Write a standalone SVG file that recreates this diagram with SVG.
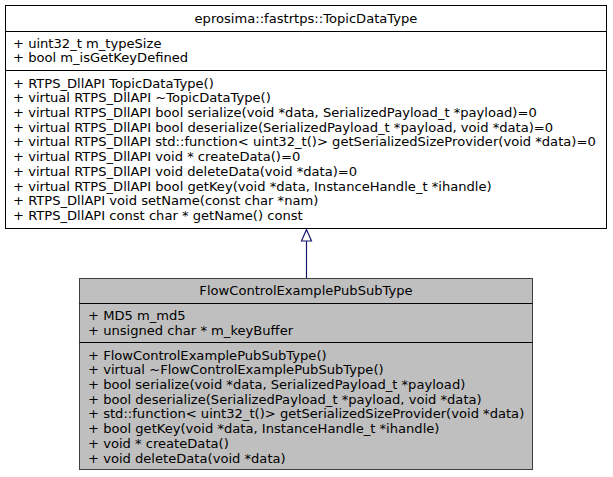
<svg xmlns="http://www.w3.org/2000/svg" width="613" height="477" viewBox="0 0 613 477">
<defs>
<style>
text{font-family:"DejaVu Sans","Liberation Sans",sans-serif;font-size:13.1px;fill:#000}
.t{text-anchor:middle}
.box{stroke:#000;stroke-width:1}
.sep{stroke:#000;stroke-width:1}
.cur{fill:#bfbfbf;stroke:#404040}
.edge{stroke:#191970;stroke-width:1.2;fill:none}
</style>
</defs>
<rect width="613" height="477" fill="#fff"/>
<g id="node-base">
<rect class="box" x="5.5" y="5.5" width="601" height="223" fill="#fff"/>
<line class="sep" x1="5.5" y1="31.5" x2="606.5" y2="31.5"/>
<line class="sep" x1="5.5" y1="70.5" x2="606.5" y2="70.5"/>
<text class="t" x="306" y="22.5">eprosima::fastrtps::TopicDataType</text>
<text x="13" y="47.6">+ uint32_t m_typeSize</text>
<text x="13" y="62.3">+ bool m_isGetKeyDefined</text>
<text x="13" y="87.6">+ RTPS_DllAPI TopicDataType()</text>
<text x="13" y="102.3">+ virtual RTPS_DllAPI ~TopicDataType()</text>
<text x="13" y="117">+ virtual RTPS_DllAPI bool serialize(void *data, SerializedPayload_t *payload)=0</text>
<text x="13" y="131.7">+ virtual RTPS_DllAPI bool deserialize(SerializedPayload_t *payload, void *data)=0</text>
<text x="13" y="146.4">+ virtual RTPS_DllAPI std::function&lt; uint32_t()&gt; getSerializedSizeProvider(void *data)=0</text>
<text x="13" y="161.1">+ virtual RTPS_DllAPI void * createData()=0</text>
<text x="13" y="175.8">+ virtual RTPS_DllAPI void deleteData(void *data)=0</text>
<text x="13" y="190.5">+ virtual RTPS_DllAPI bool getKey(void *data, InstanceHandle_t *ihandle)</text>
<text x="13" y="205.2">+ RTPS_DllAPI void setName(const char *nam)</text>
<text x="13" y="219.9">+ RTPS_DllAPI const char * getName() const</text>
</g>
<g id="node-derived">
<rect class="cur" x="79.5" y="278.5" width="453" height="191"/>
<line class="sep" x1="79.5" y1="303.5" x2="532.5" y2="303.5" stroke="#404040"/>
<line class="sep" x1="79.5" y1="342.5" x2="532.5" y2="342.5" stroke="#404040"/>
<text class="t" x="306" y="295.3">FlowControlExamplePubSubType</text>
<text x="88" y="320.1">+ MD5 m_md5</text>
<text x="88" y="334.8">+ unsigned char * m_keyBuffer</text>
<text x="88" y="359.6">+ FlowControlExamplePubSubType()</text>
<text x="88" y="374.3">+ virtual ~FlowControlExamplePubSubType()</text>
<text x="88" y="389">+ bool serialize(void *data, SerializedPayload_t *payload)</text>
<text x="88" y="403.7">+ bool deserialize(SerializedPayload_t *payload, void *data)</text>
<text x="88" y="418.4">+ std::function&lt; uint32_t()&gt; getSerializedSizeProvider(void *data)</text>
<text x="88" y="433.1">+ bool getKey(void *data, InstanceHandle_t *ihandle)</text>
<text x="88" y="447.8">+ void * createData()</text>
<text x="88" y="462.5">+ void deleteData(void *data)</text>
</g>
<g id="connectors">
<line class="edge" x1="306.5" y1="278" x2="306.5" y2="241"/>
<polygon class="edge" points="306.5,229.5 301.5,241 311.5,241"/>
</g>
</svg>
